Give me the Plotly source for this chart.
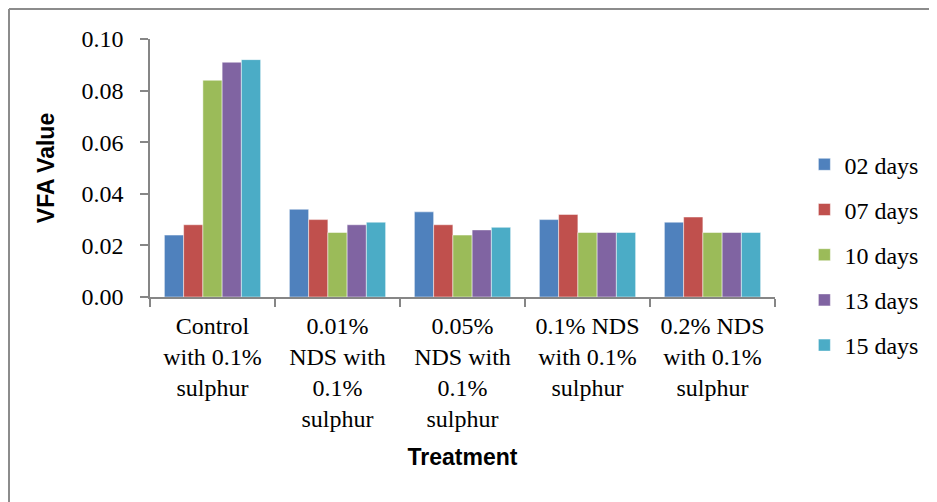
import plotly.graph_objects as go

categories = [
    "Control<br>with 0.1%<br>sulphur",
    "0.01%<br>NDS with<br>0.1%<br>sulphur",
    "0.05%<br>NDS with<br>0.1%<br>sulphur",
    "0.1% NDS<br>with 0.1%<br>sulphur",
    "0.2% NDS<br>with 0.1%<br>sulphur",
]
series_names = ["02 days", "07 days", "10 days", "13 days", "15 days"]
days_02 = [0.024, 0.034, 0.033, 0.030, 0.029]
days_07 = [0.028, 0.030, 0.028, 0.032, 0.031]
days_10 = [0.084, 0.025, 0.024, 0.025, 0.025]
days_13 = [0.091, 0.028, 0.026, 0.025, 0.025]
days_15 = [0.092, 0.029, 0.027, 0.025, 0.025]
colors = ["#4F81BD", "#C0504D", "#9BBB59", "#8064A2", "#4BACC6"]
y_ticks = [0.00, 0.02, 0.04, 0.06, 0.08, 0.10]

# page has an 8px body margin, so the figure is drawn 8px in from the window edge
W, H = 929, 494
ml, mr, mt, mb = 142, 162, 31, 205

fig = go.Figure()
for name, vals, c in zip(series_names, [days_02, days_07, days_10, days_13, days_15], colors):
    fig.add_trace(go.Bar(
        x=categories, y=vals, name=name, legendgroup=name,
        marker=dict(color=c, line=dict(color="rgba(255,255,255,0.6)", width=0.8)),
    ))

axis_color = "#868686"
serif = "Liberation Serif, Times New Roman, serif"
sans = "Liberation Sans, Arial, sans-serif"

fig.update_layout(
    width=W, height=H,
    margin=dict(l=ml, r=mr, t=mt, b=mb),
    paper_bgcolor="white", plot_bgcolor="white",
    barmode="group", bargap=0.23, bargroupgap=0,
    font=dict(family=serif, size=24, color="black"),
    legend=dict(
        x=1.047, y=0.60, xanchor="left", yanchor="top",
        font=dict(family=serif, size=24, color="black"),
        tracegroupgap=11, itemwidth=30,
    ),
    xaxis=dict(
        showline=True, linecolor=axis_color, linewidth=1.5,
        ticks="outside", tickson="boundaries", ticklen=8, tickcolor=axis_color, tickwidth=1.5,
        ticklabelstandoff=6,
        tickfont=dict(family=serif, size=24, color="black"),
        title=dict(text="<b>Treatment</b>", font=dict(family=sans, size=23, color="black"), standoff=18),
        showgrid=False,
    ),
    yaxis=dict(
        range=[0, 0.10], tickvals=y_ticks, tickformat=".2f",
        showline=True, linecolor=axis_color, linewidth=1.5,
        ticks="outside", ticklen=8, tickcolor=axis_color, tickwidth=1.5,
        ticklabelstandoff=12,
        tickfont=dict(family=serif, size=24, color="black"),
        title=dict(text="<b>VFA Value</b>", font=dict(family=sans, size=23, color="black"), standoff=20),
        showgrid=False, zeroline=False,
    ),
)

# outer chart border (top and left edges visible in the cropped original)
pw = W - ml - mr
ph = H - mt - mb
def px_x(p):
    return (p - ml) / pw
def px_y(p):
    return (H - mb - p) / ph
fig.add_shape(type="line", xref="paper", yref="paper",
              x0=px_x(1), x1=px_x(W + 5), y0=px_y(1), y1=px_y(1),
              line=dict(color="#8c8c8c", width=2))
fig.add_shape(type="line", xref="paper", yref="paper",
              x0=px_x(1), x1=px_x(1), y0=px_y(1), y1=px_y(H + 5),
              line=dict(color="#8c8c8c", width=2))

fig.write_html("out.html")
